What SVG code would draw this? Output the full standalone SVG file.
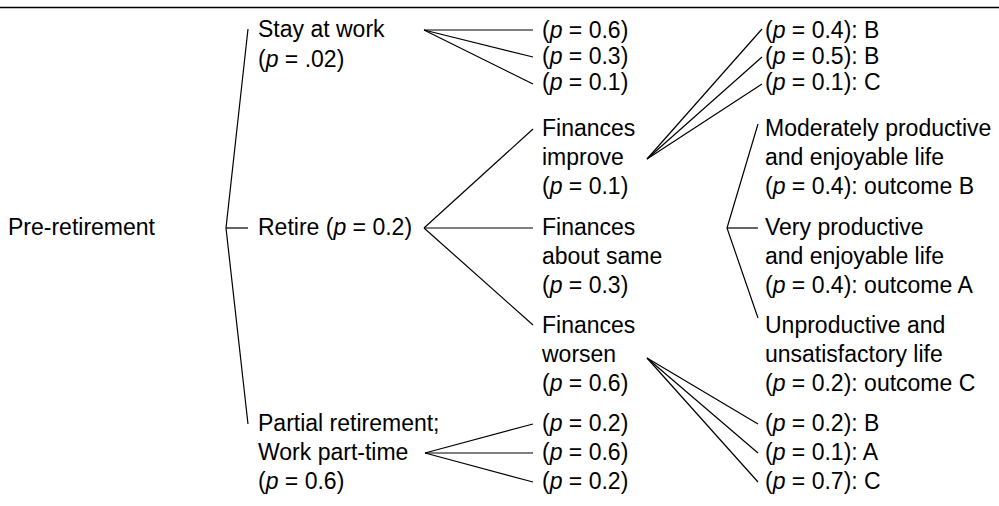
<svg xmlns="http://www.w3.org/2000/svg" width="999" height="506" viewBox="0 0 999 506">
<style>
text{font-family:"Liberation Sans",Arial,Helvetica,sans-serif;font-size:23px;fill:#000}
.i{font-style:italic}
.c{stroke:#000;stroke-width:1.2;fill:none}
</style>
<rect width="999" height="506" fill="#fff"/>
<line x1="0" y1="7.5" x2="999" y2="7.5" stroke="#000" stroke-width="1.5"/>
<g id="connectors" class="c">
<polyline points="248,29 226,228 248,424"/>
<line x1="226" y1="228" x2="248" y2="228"/>
<line x1="424" y1="30" x2="533" y2="30"/>
<line x1="424" y1="30" x2="533" y2="57"/>
<line x1="424" y1="30" x2="533" y2="84"/>
<line x1="424" y1="228" x2="533" y2="129"/>
<line x1="424" y1="228" x2="533" y2="228"/>
<line x1="424" y1="228" x2="533" y2="325"/>
<line x1="425" y1="453" x2="533" y2="424"/>
<line x1="425" y1="453" x2="533" y2="453"/>
<line x1="425" y1="453" x2="533" y2="482"/>
<line x1="647" y1="159" x2="762" y2="29"/>
<line x1="647" y1="159" x2="762" y2="57"/>
<line x1="647" y1="159" x2="762" y2="84"/>
<polyline points="758,124 727,228 758,318"/>
<line x1="727" y1="228" x2="758" y2="228"/>
<line x1="647" y1="358" x2="758" y2="424"/>
<line x1="647" y1="358" x2="758" y2="453"/>
<line x1="647" y1="358" x2="758" y2="482"/>
</g>
<g id="pre-retirement"><text x="8" y="235">Pre-retirement</text></g>
<g id="stay"><text x="258" y="37">Stay at work</text><text x="258" y="67">(<tspan class="i">p</tspan> = .02)</text></g>
<g id="retire"><text x="258" y="235">Retire (<tspan class="i">p</tspan> = 0.2)</text></g>
<g id="partial"><text x="258" y="431">Partial retirement;</text><text x="258" y="460">Work part-time</text><text x="258" y="489">(<tspan class="i">p</tspan> = 0.6)</text></g>
<g id="stay-outcomes"><text x="542" y="38">(<tspan class="i">p</tspan> = 0.6)</text><text x="542" y="64">(<tspan class="i">p</tspan> = 0.3)</text><text x="542" y="90">(<tspan class="i">p</tspan> = 0.1)</text></g>
<g id="improve"><text x="542" y="136">Finances</text><text x="542" y="165">improve</text><text x="542" y="194">(<tspan class="i">p</tspan> = 0.1)</text></g>
<g id="same"><text x="542" y="235">Finances</text><text x="542" y="264">about same</text><text x="542" y="293">(<tspan class="i">p</tspan> = 0.3)</text></g>
<g id="worsen"><text x="542" y="333">Finances</text><text x="542" y="362">worsen</text><text x="542" y="391">(<tspan class="i">p</tspan> = 0.6)</text></g>
<g id="partial-outcomes"><text x="542" y="431">(<tspan class="i">p</tspan> = 0.2)</text><text x="542" y="460">(<tspan class="i">p</tspan> = 0.6)</text><text x="542" y="489">(<tspan class="i">p</tspan> = 0.2)</text></g>
<g id="improve-outcomes"><text x="765" y="38">(<tspan class="i">p</tspan> = 0.4): B</text><text x="765" y="64">(<tspan class="i">p</tspan> = 0.5): B</text><text x="765" y="90">(<tspan class="i">p</tspan> = 0.1): C</text></g>
<g id="outcome-moderate"><text x="765" y="136">Moderately productive</text><text x="765" y="165">and enjoyable life</text><text x="765" y="194">(<tspan class="i">p</tspan> = 0.4): outcome B</text></g>
<g id="outcome-very"><text x="765" y="235">Very productive</text><text x="765" y="264">and enjoyable life</text><text x="765" y="293">(<tspan class="i">p</tspan> = 0.4): outcome A</text></g>
<g id="outcome-unproductive"><text x="765" y="333">Unproductive and</text><text x="765" y="362">unsatisfactory life</text><text x="765" y="391">(<tspan class="i">p</tspan> = 0.2): outcome C</text></g>
<g id="worsen-outcomes"><text x="765" y="431">(<tspan class="i">p</tspan> = 0.2): B</text><text x="765" y="460">(<tspan class="i">p</tspan> = 0.1): A</text><text x="765" y="489">(<tspan class="i">p</tspan> = 0.7): C</text></g>
</svg>
